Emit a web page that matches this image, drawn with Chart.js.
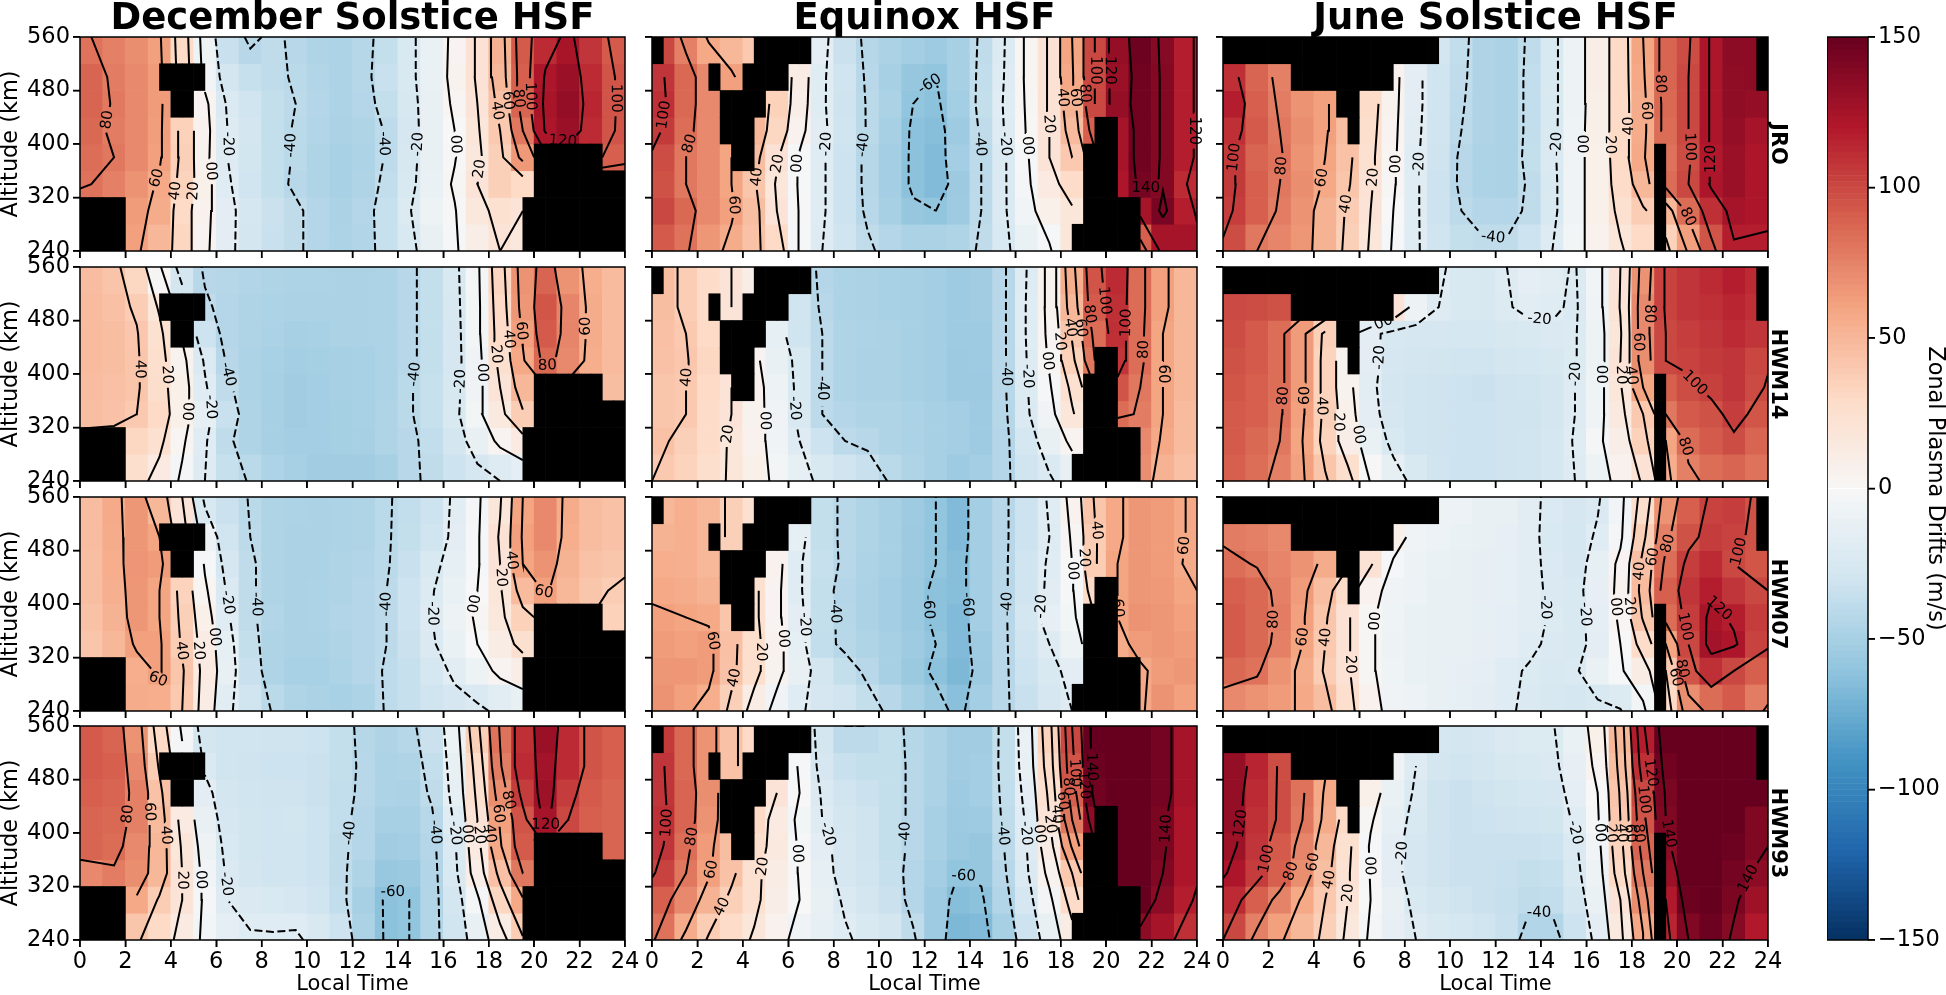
<!DOCTYPE html>
<html>
<head>
<meta charset="utf-8">
<title>Zonal Plasma Drifts</title>
<script src="https://cdn.jsdelivr.net/npm/chart.js@4"></script>
<style>
  html, body { margin: 0; padding: 0; background: #fff; }
  canvas { position: absolute; }
</style>
</head>
<body>
<script>
// rows run from 520-560 km (first) down to 240-280 km (last), columns are 1 h of local time
var decJRO = [
  [82,76,70,62,30,-8,-34,-42,-38,-42,-46,-47,-43,-36,-24,-10,4,22,52,92,112,124,108,92],
  [88,78,72,64,32,-5,-28,-35,-38,-41,-45,-47,-43,-34,-24,-10,5,22,50,90,122,130,112,95],
  [88,79,72,64,34,4,-22,-30,-36,-40,-44,-47,-44,-36,-25,-12,3,20,45,88,124,132,114,95],
  [86,78,72,63,35,6,-20,-28,-36,-41,-45,-48,-46,-39,-26,-12,0,18,40,80,122,130,112,95],
  [84,80,72,62,36,5,-20,-29,-36,-41,-46,-49,-47,-39,-25,-11,-1,16,36,65,95,110,105,90],
  [82,76,68,58,34,8,-18,-30,-36,-42,-46,-49,-46,-37,-24,-10,2,20,36,30,40,50,50,50],
  [70,68,64,56,30,6,-16,-27,-33,-38,-44,-48,-44,-35,-21,-8,-1,16,24,20,20,20,20,20],
  [70,68,62,50,32,4,-16,-28,-34,-38,-44,-47,-45,-35,-24,-12,-2,10,20,16,15,15,15,15]
];
var decHWM14 = [
  [47,43,32,2,-28,-42,-43,-45,-46,-47,-47,-48,-48,-47,-42,-36,-24,-3,33,68,88,68,55,48],
  [48,45,38,18,-10,-38,-44,-46,-47,-48,-48,-48,-48,-47,-42,-36,-25,-4,30,66,94,74,56,48],
  [48,46,41,24,-2,-32,-44,-46,-48,-50,-49,-48,-48,-47,-42,-36,-26,-4,28,62,92,74,56,48],
  [48,46,42,26,5,-22,-42,-47,-49,-52,-51,-50,-49,-47,-42,-36,-26,-6,25,58,86,72,55,48],
  [47,45,42,27,8,-18,-38,-47,-50,-53,-52,-50,-49,-47,-41,-35,-25,-6,20,50,60,55,50,46],
  [46,44,40,30,8,-14,-34,-46,-50,-53,-52,-51,-49,-46,-41,-35,-24,-4,15,38,40,38,36,36],
  [35,35,32,24,3,-18,-38,-46,-50,-52,-52,-51,-50,-46,-42,-37,-28,-12,4,14,15,15,15,15],
  [30,28,26,14,-3,-20,-35,-41,-47,-50,-53,-53,-53,-50,-42,-38,-32,-26,-20,-15,-15,-15,-15,-15]
];
var decHWM07 = [
  [47,57,66,50,20,-24,-33,-41,-46,-47,-48,-47,-46,-41,-37,-32,-17,-3,18,60,72,56,47,44],
  [47,56,66,60,28,-8,-30,-40,-46,-48,-48,-47,-46,-41,-36,-30,-16,-2,22,62,72,55,47,44],
  [46,55,67,64,38,-2,-26,-38,-46,-48,-48,-46,-45,-41,-34,-24,-14,-2,20,60,68,52,44,42],
  [46,54,66,60,34,3,-22,-38,-46,-48,-47,-46,-44,-40,-32,-21,-10,0,18,48,62,50,42,38],
  [44,52,66,60,36,8,-18,-38,-45,-48,-47,-45,-44,-40,-32,-20,-8,2,16,35,45,40,40,35],
  [42,50,62,62,38,12,-14,-36,-46,-48,-48,-46,-44,-40,-33,-22,-10,0,12,25,30,30,30,30],
  [35,40,55,62,42,14,-12,-34,-46,-49,-49,-47,-44,-39,-35,-27,-17,-8,4,10,10,10,10,10],
  [40,48,56,55,40,12,-17,-30,-41,-46,-48,-49,-47,-39,-35,-30,-26,-23,-17,-12,-12,-12,-12,-12]
];
var decHWM93 = [
  [92,88,68,30,-3,-28,-30,-30,-31,-31,-32,-36,-43,-46,-43,-33,-8,36,82,110,130,112,95,90],
  [92,90,72,38,5,-22,-30,-31,-32,-32,-33,-36,-42,-47,-46,-36,-12,28,78,112,126,112,95,90],
  [90,88,76,44,12,-16,-28,-30,-31,-31,-33,-37,-42,-47,-48,-38,-14,24,70,105,128,105,92,88],
  [88,86,76,48,14,-12,-26,-29,-30,-29,-32,-37,-44,-50,-50,-42,-18,20,62,95,125,100,90,88],
  [88,85,72,50,18,-8,-24,-29,-30,-30,-32,-38,-44,-53,-52,-44,-22,14,58,92,100,95,90,88],
  [72,78,70,50,20,-5,-22,-28,-30,-30,-32,-38,-46,-57,-56,-45,-24,10,45,80,85,85,85,85],
  [60,60,58,38,20,-3,-20,-23,-24,-26,-30,-37,-50,-62,-60,-45,-28,-3,32,58,60,60,60,60],
  [50,50,42,30,14,-4,-15,-19,-19,-18,-24,-32,-48,-62,-60,-45,-30,-12,12,38,40,40,40,40]
];
var eqJRO = [
  [100,76,58,50,40,25,0,-15,-33,-43,-48,-52,-54,-50,-38,-21,3,22,60,100,132,148,138,118],
  [108,86,72,62,50,35,12,-18,-30,-42,-50,-58,-60,-50,-37,-20,3,22,58,100,130,146,139,118],
  [110,86,72,62,50,35,10,-18,-31,-41,-48,-60,-62,-52,-36,-19,2,22,52,100,132,146,139,118],
  [106,84,72,62,50,32,6,-17,-30,-41,-50,-62,-64,-54,-38,-20,1,20,48,90,125,146,139,118],
  [98,80,72,60,46,22,-2,-18,-32,-43,-52,-62,-66,-52,-40,-22,-2,20,40,75,125,146,139,118],
  [96,80,72,60,42,18,-2,-18,-32,-43,-52,-62,-66,-55,-40,-22,-3,14,28,40,122,144,139,112],
  [100,86,72,62,46,20,-1,-18,-32,-42,-50,-58,-60,-54,-40,-22,-5,8,18,12,100,125,143,118],
  [92,82,66,56,44,30,-2,-20,-30,-38,-44,-48,-48,-46,-38,-24,-10,-2,18,40,60,90,125,125]
];
var eqHWM14 = [
  [46,38,28,20,10,-10,-30,-44,-47,-48,-49,-50,-52,-54,-53,-42,-20,5,55,95,112,85,62,50],
  [46,38,28,20,8,-12,-30,-42,-47,-48,-49,-50,-52,-54,-53,-42,-19,5,50,92,110,85,62,50],
  [45,40,30,18,4,-14,-30,-40,-46,-47,-48,-50,-52,-54,-54,-42,-19,4,42,85,110,84,60,50],
  [44,41,32,18,4,-12,-24,-40,-46,-48,-48,-50,-52,-55,-54,-42,-20,2,35,80,108,84,60,50],
  [42,40,30,20,6,-8,-24,-40,-46,-48,-48,-50,-52,-55,-55,-42,-21,-2,24,60,95,80,60,50],
  [42,40,28,20,5,-6,-24,-40,-44,-46,-46,-48,-50,-52,-54,-43,-22,-6,18,40,85,78,60,48],
  [44,36,28,18,6,-6,-20,-32,-40,-42,-46,-48,-50,-52,-54,-44,-27,-12,4,15,50,72,58,48],
  [40,34,26,18,8,-4,-14,-24,-30,-34,-41,-46,-50,-54,-52,-44,-30,-22,-12,-5,30,70,52,45]
];
var eqHWM07 = [
  [50,54,50,36,24,8,-14,-36,-42,-46,-50,-54,-60,-66,-52,-42,-32,-18,6,42,58,66,64,58],
  [52,54,50,36,24,6,-14,-36,-42,-46,-50,-55,-60,-66,-52,-42,-32,-20,2,38,58,66,64,58],
  [55,54,50,36,24,6,-18,-35,-42,-47,-50,-55,-60,-64,-52,-42,-30,-18,0,38,60,66,64,57],
  [58,56,52,36,24,4,-18,-36,-44,-48,-52,-56,-62,-64,-52,-42,-30,-17,-2,30,60,66,65,60],
  [62,60,58,42,24,4,-16,-36,-43,-48,-52,-56,-62,-66,-52,-42,-28,-14,-4,20,60,68,66,62],
  [64,62,64,45,26,6,-14,-37,-42,-46,-50,-54,-60,-66,-54,-42,-30,-20,-8,10,56,64,66,64],
  [66,66,64,44,26,5,-12,-28,-36,-42,-50,-56,-62,-68,-55,-42,-32,-24,-16,-8,40,58,64,66],
  [68,62,55,36,12,-6,-18,-26,-30,-36,-42,-50,-56,-63,-52,-42,-34,-26,-20,-14,30,58,68,62]
];
var eqHWM93 = [
  [106,86,68,44,30,15,-5,-28,-40,-40,-36,-43,-48,-53,-53,-36,-10,34,100,150,160,160,145,125],
  [108,86,68,44,30,18,-2,-26,-34,-36,-36,-42,-48,-53,-52,-36,-12,30,95,148,160,160,145,125],
  [108,88,70,46,32,20,0,-22,-30,-33,-36,-42,-48,-54,-52,-37,-15,24,90,146,160,160,145,125],
  [110,88,68,48,30,14,-4,-20,-28,-31,-36,-42,-50,-55,-54,-38,-18,20,80,135,158,160,142,122],
  [108,84,64,46,26,15,-2,-16,-26,-31,-36,-42,-50,-56,-58,-40,-20,12,62,118,158,160,142,122],
  [102,80,62,44,24,12,-1,-14,-26,-30,-35,-44,-52,-60,-58,-42,-22,5,40,90,150,160,140,122],
  [90,72,52,36,24,10,0,-12,-22,-28,-33,-44,-54,-64,-62,-45,-26,-4,28,70,130,150,135,118],
  [82,56,38,28,18,6,-6,-14,-18,-24,-28,-38,-54,-68,-66,-50,-32,-12,12,40,100,135,125,110]
];
var junJRO = [
  [112,88,76,70,65,50,30,6,-16,-28,-37,-46,-48,-38,-24,-8,10,30,60,88,98,122,135,135],
  [110,88,76,70,65,50,30,6,-16,-30,-38,-46,-48,-37,-24,-8,10,30,58,88,100,122,134,135],
  [118,90,78,68,62,50,28,5,-16,-30,-39,-46,-48,-37,-24,-8,9,30,56,86,100,122,134,132],
  [110,92,80,70,62,46,26,4,-17,-30,-40,-46,-48,-37,-24,-7,9,30,56,85,100,122,132,125],
  [106,88,82,68,60,44,24,3,-18,-31,-42,-47,-48,-36,-23,-6,8,30,58,82,98,120,130,122],
  [106,90,80,70,58,42,22,2,-18,-32,-42,-47,-48,-38,-24,-6,8,28,50,85,100,122,130,122],
  [104,90,78,68,52,38,20,0,-18,-32,-40,-44,-44,-38,-24,-6,8,24,38,50,85,110,125,122],
  [98,80,74,66,52,36,18,-2,-18,-30,-36,-38,-38,-32,-20,-4,6,18,30,35,62,95,118,118]
];
var junHWM14 = [
  [99,98,96,94,88,75,55,25,0,-18,-24,-25,-20,-15,-17,-21,-5,20,68,102,108,112,118,112],
  [99,98,96,90,82,70,50,20,-8,-20,-24,-25,-21,-17,-18,-22,-6,21,72,102,108,110,114,110],
  [98,92,84,64,36,8,-16,-25,-26,-26,-27,-27,-25,-24,-22,-21,-8,18,72,100,104,108,112,108],
  [96,92,84,64,34,5,-16,-26,-28,-29,-30,-30,-28,-27,-25,-21,-8,20,70,100,102,106,108,101],
  [94,90,84,64,34,5,-17,-28,-30,-31,-32,-33,-31,-30,-28,-20,-7,18,60,90,98,103,108,99],
  [92,90,82,62,36,8,-16,-26,-30,-31,-32,-32,-31,-31,-28,-20,-6,15,40,80,92,96,104,94],
  [92,86,80,60,34,10,-10,-24,-30,-31,-32,-32,-31,-30,-27,-19,-3,10,35,60,85,92,98,88],
  [90,84,76,62,42,26,-1,-14,-24,-30,-32,-32,-31,-30,-27,-20,-8,6,22,55,76,84,88,82]
];
var junHWM07 = [
  [78,76,72,66,58,45,30,10,-5,-8,-9,-11,-12,-17,-23,-26,-22,-5,27,68,90,102,104,96],
  [78,76,72,66,58,45,30,8,-6,-9,-10,-12,-13,-17,-24,-27,-18,-3,36,76,96,105,102,96],
  [84,79,74,68,56,42,22,-2,-8,-10,-12,-13,-14,-17,-23,-26,-14,4,45,84,104,112,100,94],
  [90,86,76,64,46,28,6,-6,-9,-11,-12,-13,-14,-17,-22,-24,-13,5,48,90,108,118,108,100],
  [92,86,78,62,42,22,2,-7,-10,-11,-12,-14,-15,-17,-21,-24,-15,3,42,85,105,124,118,105],
  [92,86,76,60,40,22,2,-8,-10,-11,-12,-13,-15,-18,-22,-24,-16,0,28,60,100,126,122,102],
  [86,82,68,56,38,22,2,-7,-10,-12,-13,-15,-18,-21,-24,-22,-10,-2,12,40,95,110,100,90],
  [72,68,64,58,46,26,6,-6,-9,-12,-14,-16,-18,-23,-25,-27,-24,-21,-4,30,70,85,92,78]
];
var junHWM93 = [
  [132,115,98,84,62,30,10,-5,-20,-26,-28,-26,-22,-21,-21,-10,8,50,118,150,160,160,160,150],
  [132,115,98,84,62,34,12,-6,-20,-28,-30,-28,-25,-24,-23,-13,4,46,110,146,160,160,160,150],
  [132,112,98,82,58,32,8,-10,-22,-31,-33,-31,-29,-27,-26,-15,0,42,100,142,160,160,155,150],
  [132,110,98,80,56,30,2,-14,-24,-31,-33,-32,-31,-30,-29,-18,-2,40,95,140,158,158,150,140],
  [128,108,92,74,50,24,-2,-16,-26,-31,-33,-33,-33,-33,-32,-22,-5,34,88,135,158,158,148,140],
  [122,105,90,70,46,22,-1,-16,-26,-31,-33,-33,-34,-36,-35,-24,-8,30,80,130,150,150,145,135],
  [112,90,75,58,40,20,0,-12,-24,-28,-31,-33,-35,-38,-37,-28,-10,20,70,120,148,150,142,128],
  [100,76,62,50,36,16,-3,-13,-20,-24,-27,-30,-34,-45,-45,-32,-16,15,58,115,140,148,138,120]
];

// cells with no data, one entry per block: altitude from, altitude to, hour from, hour to
var decGaps = [[240,320,0,2],[480,520,3.5,5.5],[440,480,4,5],[240,320,19.5,24],[320,360,20,24],[360,400,20,23]];
var eqGaps = [[520,560,0,0.5],[520,560,4.5,7],[480,520,2.5,3],[480,520,4,6],[440,480,3,5],[400,440,3,4.5],[360,400,3.5,4.5],
  [240,280,18.5,21.5],[280,320,19,21.5],[320,400,19,20.5],[400,440,19.5,20.5]];
var junGaps = [[520,560,0,9.5],[480,520,3,7.5],[440,480,5,6],[400,440,5.5,6],[240,400,19,19.5],[480,560,23.5,24]];

var seasonTitles = ['December Solstice HSF', 'Equinox HSF', 'June Solstice HSF'];
var modelNames = ['JRO', 'HWM14', 'HWM07', 'HWM93'];
var panelData = [[decJRO, eqJRO, junJRO], [decHWM14, eqHWM14, junHWM14], [decHWM07, eqHWM07, junHWM07], [decHWM93, eqHWM93, junHWM93]];
var seasonGaps = [decGaps, eqGaps, junGaps];
var contourLevels = [-80,-60,-40,-20,0,20,40,60,80,100,120,140,160];
// contour nodes sit on the cell centres, the outer ones pushed out to the frame
var hourNodes = [0,1.5,2.5,3.5,4.5,5.5,6.5,7.5,8.5,9.5,10.5,11.5,12.5,13.5,14.5,15.5,16.5,17.5,18.5,19.5,20.5,21.5,22.5,24];
var altNodes = [240,300,340,380,420,460,500,560];
var colorTicks = [-150,-100,-50,0,50,100,150];
var rdbuColors = [[5,48,97],[33,102,172],[67,147,195],[146,197,222],[209,229,240],[247,247,247],[253,219,199],[244,165,130],[214,96,77],[178,24,43],[103,0,31]];

var colLefts = [80, 652, 1223];
var rowTops = [37, 267, 497, 726];
var panelW = 545, panelH = 214;
var FONT = '"DejaVu Sans"';
var pxPerHour = panelW / 24, pxPerKm = panelH / 320;

Chart.defaults.font.family = FONT;
Chart.defaults.color = '#000';

function valueColor(v) {
  var t = Math.max(0, Math.min(1, (v + 150) / 300)) * 10;
  var i = Math.min(9, Math.floor(t)), f = t - i;
  var a = rdbuColors[i], b = rdbuColors[i + 1];
  return 'rgb(' + Math.round(a[0] + (b[0] - a[0]) * f) + ',' + Math.round(a[1] + (b[1] - a[1]) * f) + ',' + Math.round(a[2] + (b[2] - a[2]) * f) + ')';
}

function inGap(gaps, x, y) {
  return gaps.some(function (g) { return y >= g[0] && y <= g[1] && x >= g[2] && x <= g[3]; });
}

// marching squares over one panel, returns the lines of one level
function traceLevel(rows, level) {
  var g = rows.slice().reverse();
  var lv = level + 0.001;
  var pts = {}, links = {};
  function cross(key, x0, y0, v0, x1, y1, v1) {
    var t = (lv - v0) / (v1 - v0);
    pts[key] = { x: x0 + (x1 - x0) * t, y: y0 + (y1 - y0) * t };
    return key;
  }
  function link(a, b) {
    (links[a] = links[a] || []).push(b);
    (links[b] = links[b] || []).push(a);
  }
  for (var j = 0; j < g.length - 1; j++) {
    for (var i = 0; i < hourNodes.length - 1; i++) {
      var a = g[j][i], b = g[j][i + 1], c = g[j + 1][i + 1], d = g[j + 1][i];
      var x0 = hourNodes[i], x1 = hourNodes[i + 1], y0 = altNodes[j], y1 = altNodes[j + 1];
      var hit = [];
      if ((a > lv) !== (b > lv)) hit.push(cross('h' + i + '_' + j, x0, y0, a, x1, y0, b));
      if ((b > lv) !== (c > lv)) hit.push(cross('v' + (i + 1) + '_' + j, x1, y0, b, x1, y1, c));
      if ((d > lv) !== (c > lv)) hit.push(cross('h' + i + '_' + (j + 1), x0, y1, d, x1, y1, c));
      if ((a > lv) !== (d > lv)) hit.push(cross('v' + i + '_' + j, x0, y0, a, x0, y1, d));
      if (hit.length === 2) link(hit[0], hit[1]);
      if (hit.length === 4) { link(hit[0], hit[1]); link(hit[2], hit[3]); }
    }
  }
  var lines = [];
  function walk(start) {
    var line = [pts[start]], cur = start;
    while (links[cur] && links[cur].length) {
      var nxt = links[cur].pop();
      var back = links[nxt].indexOf(cur);
      if (back >= 0) links[nxt].splice(back, 1);
      line.push(pts[nxt]);
      cur = nxt;
    }
    lines.push(line);
  }
  Object.keys(links).forEach(function (k) { if (links[k].length === 1) walk(k); });
  Object.keys(links).forEach(function (k) { if (links[k].length) walk(k); });
  return lines;
}

function pxDist(p, q) {
  return Math.hypot((q.x - p.x) * pxPerHour, (q.y - p.y) * pxPerKm);
}

// part of a line between two arc lengths, measured in pixels
function cutLine(line, s0, s1) {
  var out = [], s = 0;
  for (var i = 0; i < line.length - 1; i++) {
    var d = pxDist(line[i], line[i + 1]);
    var p = line[i], q = line[i + 1];
    if (s + d >= s0 && s <= s1) {
      if (!out.length) {
        var t0 = (s0 - s) / d;
        out.push(s >= s0 ? p : { x: p.x + (q.x - p.x) * t0, y: p.y + (q.y - p.y) * t0 });
      }
      var t1 = (s1 - s) / d;
      out.push(s + d <= s1 ? q : { x: p.x + (q.x - p.x) * t1, y: p.y + (q.y - p.y) * t1 });
    }
    s += d;
  }
  return out;
}

function buildContours(rows, gaps) {
  var segs = [], labels = [];
  contourLevels.forEach(function (level) {
    traceLevel(rows, level).forEach(function (line) {
      // drop what falls in the empty cells
      var runs = [], run = [];
      for (var i = 0; i < line.length - 1; i++) {
        var mx = (line[i].x + line[i + 1].x) / 2, my = (line[i].y + line[i + 1].y) / 2;
        if (inGap(gaps, mx, my)) {
          if (run.length) runs.push(run);
          run = [];
        } else {
          if (!run.length) run.push(line[i]);
          run.push(line[i + 1]);
        }
      }
      if (run.length) runs.push(run);
      runs.forEach(function (r) {
        var len = 0;
        for (var k = 0; k < r.length - 1; k++) len += pxDist(r[k], r[k + 1]);
        var text = level === 0 ? '00' : String(level);
        var gap = text.length * 10 + 6;
        if (len < gap + 30) { segs.push({ level: level, pts: r }); return; }
        var mid = len / 2;
        segs.push({ level: level, pts: cutLine(r, 0, mid - gap / 2) });
        segs.push({ level: level, pts: cutLine(r, mid + gap / 2, len) });
        var piece = cutLine(r, mid - gap / 2, mid + gap / 2);
        var p0 = piece[0], p1 = piece[piece.length - 1];
        var ang = Math.atan2(-(p1.y - p0.y) * pxPerKm, (p1.x - p0.x) * pxPerHour);
        if (ang > Math.PI / 2 + 0.001) ang -= Math.PI;
        if (ang <= -Math.PI / 2 + 0.001) ang += Math.PI;
        var c = cutLine(r, mid, mid + 0.01)[0];
        labels.push({ x: c.x, y: c.y, text: text, angle: ang });
      });
    });
  });
  return { segs: segs, labels: labels };
}

function tickLine(ctx, x0, y0, x1, y1) {
  ctx.beginPath();
  ctx.moveTo(x0, y0);
  ctx.lineTo(x1, y1);
  ctx.stroke();
}

function framePlugin(labels, isBar) {
  return {
    id: 'panelFrame',
    afterDatasetsDraw: function (chart) {
      var ctx = chart.ctx, a = chart.chartArea;
      var sx = chart.scales.x, sy = chart.scales.y;
      ctx.save();
      ctx.fillStyle = '#000';
      ctx.font = '15px ' + FONT;
      ctx.textAlign = 'center';
      ctx.textBaseline = 'middle';
      labels.forEach(function (l) {
        ctx.save();
        ctx.translate(sx.getPixelForValue(l.x), sy.getPixelForValue(l.y));
        ctx.rotate(l.angle);
        ctx.fillText(l.text, 0, 0);
        ctx.restore();
      });
      ctx.strokeStyle = '#000';
      ctx.lineWidth = 1.5;
      ctx.strokeRect(a.left, a.top, a.right - a.left, a.bottom - a.top);
      sy.ticks.forEach(function (t) {
        var py = sy.getPixelForValue(t.value);
        if (isBar) tickLine(ctx, a.right, py, a.right + 7, py);
        else tickLine(ctx, a.left, py, a.left - 7, py);
      });
      if (!isBar) {
        sx.ticks.forEach(function (t) {
          var px = sx.getPixelForValue(t.value);
          tickLine(ctx, px, a.bottom, px, a.bottom + 7);
        });
      }
      ctx.restore();
    }
  };
}

function noLabel() { return ''; }

function makePanel(r, c) {
  var rows = panelData[r][c], gaps = seasonGaps[c];
  var isTop = r === 0, isBottom = r === 3, isLeft = c === 0, isRight = c === 2;
  var L = isLeft ? 80 : 27, B = isBottom ? 55 : 18, T = isTop ? 37 : 18, R = 20;
  var canvas = document.createElement('canvas');
  canvas.width = L + panelW + R;
  canvas.height = T + panelH + B;
  canvas.style.left = (colLefts[c] - L) + 'px';
  canvas.style.top = (rowTops[r] - T) + 'px';
  document.body.appendChild(canvas);

  var datasets = [];
  rows.forEach(function (vals, i) {
    var hi = 560 - 40 * i;
    datasets.push({
      type: 'bar',
      order: 3,
      data: vals.map(function (v, h) { return { x: h + 0.5, y: [hi - 40, hi] }; }),
      backgroundColor: vals.map(valueColor),
      barThickness: pxPerHour,
      grouped: false,
      borderWidth: 0
    });
  });
  var gapCells = [];
  gaps.forEach(function (g) {
    for (var h = g[2]; h < g[3]; h += 0.5) gapCells.push({ x: h + 0.25, y: [g[0], g[1]] });
  });
  datasets.push({ type: 'bar', order: 1, data: gapCells, backgroundColor: '#000', barThickness: pxPerHour / 2, grouped: false, borderWidth: 0 });

  var contours = buildContours(rows, gaps);
  contours.segs.forEach(function (s) {
    datasets.push({
      type: 'scatter',
      order: 2,
      showLine: true,
      data: s.pts,
      borderColor: '#000',
      borderWidth: 2,
      borderDash: s.level < 0 ? [8, 3.5] : [],
      pointRadius: 0,
      tension: 0
    });
  });

  var xTicks = { stepSize: 2, autoSkip: false, maxRotation: 0, padding: 2, font: { size: 22.5 }, color: '#000' };
  var yTicks = { stepSize: 80, autoSkip: false, padding: 3, font: { size: 22.5 }, color: '#000' };
  if (!isBottom) xTicks.callback = noLabel;
  if (!isLeft) yTicks.callback = noLabel;

  var scales = {
    x: {
      type: 'linear', min: 0, max: 24, offset: false,
      grid: { offset: false, drawOnChartArea: false, drawTicks: true, tickLength: 7, tickColor: '#000', lineWidth: 1.5 },
      border: { display: false },
      ticks: xTicks,
      title: { display: isBottom, text: 'Local Time', font: { size: 21, lineHeight: 1 }, padding: 0, color: '#000' },
      afterFit: function (s) { s.height = B; s.paddingLeft = 0; s.paddingRight = 0; }
    },
    y: {
      type: 'linear', min: 240, max: 560,
      grid: { drawOnChartArea: false, drawTicks: true, tickLength: 7, tickColor: '#000', lineWidth: 1.5 },
      border: { display: false },
      ticks: yTicks,
      title: { display: isLeft, text: 'Altitude (km)', font: { size: 22.4, lineHeight: 1 }, padding: 0, color: '#000' },
      afterFit: function (s) { s.width = L; s.paddingTop = 0; s.paddingBottom = 0; }
    }
  };
  if (isRight) {
    scales.yr = {
      type: 'linear', position: 'right', min: 240, max: 560,
      grid: { display: false },
      border: { display: false },
      ticks: { display: false },
      title: { display: true, text: modelNames[r], font: { size: 21, weight: 'bold', lineHeight: 1 }, padding: 0, color: '#000' },
      afterFit: function (s) { s.width = R; s.paddingTop = 0; s.paddingBottom = 0; }
    };
  }

  new Chart(canvas, {
    type: 'bar',
    data: { datasets: datasets },
    options: {
      responsive: false,
      devicePixelRatio: 1,
      animation: false,
      events: [],
      layout: { autoPadding: false, padding: { top: isTop ? 0 : T, right: isRight ? 0 : R, left: 0, bottom: 0 } },
      scales: scales,
      plugins: {
        legend: { display: false },
        tooltip: { enabled: false },
        title: {
          display: isTop,
          text: seasonTitles[c],
          fullSize: false,
          color: '#000',
          font: { size: 37, weight: 'bold', lineHeight: '32px' },
          padding: { top: 3, bottom: 2 }
        }
      }
    },
    plugins: [framePlugin(contours.labels, false)]
  });
}

function makeColorbar() {
  var barW = 41, R = 78, T = 18;
  var canvas = document.createElement('canvas');
  canvas.width = barW + R;
  canvas.height = 940 - 37 + T * 2;
  canvas.style.left = '1827px';
  canvas.style.top = (37 - T) + 'px';
  document.body.appendChild(canvas);
  var cells = [], shades = [];
  for (var v = -150; v < 150; v += 2) {
    cells.push({ x: 0.5, y: [v, v + 2] });
    shades.push(valueColor(v + 1));
  }
  new Chart(canvas, {
    type: 'bar',
    data: { datasets: [{ data: cells, backgroundColor: shades, barThickness: barW, grouped: false, borderWidth: 0 }] },
    options: {
      responsive: false,
      devicePixelRatio: 1,
      animation: false,
      events: [],
      layout: { autoPadding: false, padding: { top: T, bottom: T } },
      scales: {
        x: { type: 'linear', min: 0, max: 1, display: false, offset: false },
        y: {
          type: 'linear', position: 'right', min: -150, max: 150,
          grid: { drawOnChartArea: false, drawTicks: true, tickLength: 7, tickColor: '#000', lineWidth: 1.5 },
          border: { display: false },
          afterBuildTicks: function (s) { s.ticks = colorTicks.map(function (t) { return { value: t }; }); },
          ticks: {
            autoSkip: false, padding: 3, font: { size: 22.5 }, color: '#000',
            callback: function (t) { return t < 0 ? '\u2212' + Math.abs(t) : String(t); }
          },
          title: { display: true, text: 'Zonal Plasma Drifts (m/s)', font: { size: 22.4, lineHeight: 1 }, padding: 0, color: '#000' },
          afterFit: function (s) { s.width = R; s.paddingTop = 0; s.paddingBottom = 0; }
        }
      },
      plugins: { legend: { display: false }, tooltip: { enabled: false } }
    },
    plugins: [framePlugin([], true)]
  });
}

for (var r = 0; r < 4; r++) {
  for (var c = 0; c < 3; c++) makePanel(r, c);
}
makeColorbar();
</script>
</body>
</html>
